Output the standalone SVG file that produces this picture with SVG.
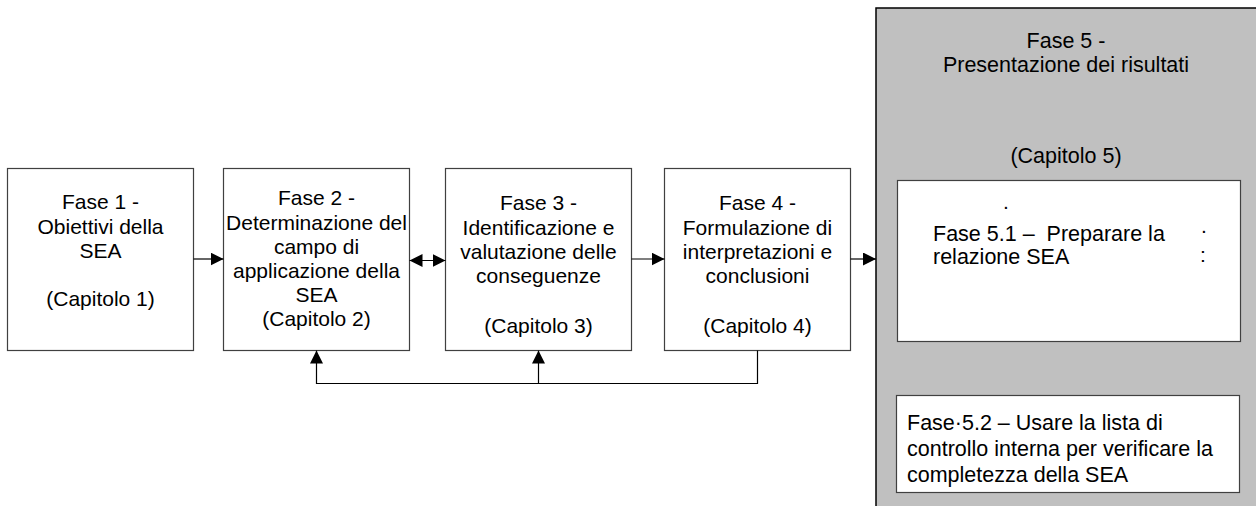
<svg xmlns="http://www.w3.org/2000/svg" width="1256" height="506" viewBox="0 0 1256 506">
  <defs>
    <style>
      .box { fill: #ffffff; stroke: #404040; stroke-width: 1.2; }
      .panel { fill: #c0c0c0; stroke: #000000; stroke-width: 1.5; }
      .lbl { font-family: "Liberation Sans", Arial, sans-serif; font-size: 21px; fill: #000000; }
      .big { font-size: 21.5px; }
      .mid { text-anchor: middle; }
      .wire { fill: none; stroke: #000000; stroke-width: 1.2; }
    </style>
    <marker id="head" viewBox="0 0 13 13" refX="13" refY="6.5" markerWidth="13" markerHeight="13" markerUnits="userSpaceOnUse" orient="auto-start-reverse">
      <path d="M0,0 L13,6.5 L0,13 Z" fill="#000000"/>
    </marker>
  </defs>

  <rect width="1256" height="506" fill="#ffffff"/>

  <!-- Phase 5 container -->
  <g id="fase5">
    <rect class="panel" x="876" y="8" width="400" height="520"/>
    <text class="lbl big mid" x="1066" y="48">Fase 5 -</text>
    <text class="lbl big mid" x="1066" y="72">Presentazione dei risultati</text>
    <text class="lbl big mid" x="1066" y="163">(Capitolo 5)</text>
  </g>

  <g id="fase5-1">
    <rect class="box" x="897.5" y="180.5" width="343" height="161"/>
    <text class="lbl" x="1003" y="209">.</text>
    <text class="lbl big" x="933" y="241" xml:space="preserve">Fase 5.1 –  Preparare la</text>
    <text class="lbl" x="1201" y="233">.</text>
    <text class="lbl" x="1200" y="262">:</text>
    <text class="lbl big" x="933" y="264">relazione SEA</text>
  </g>

  <g id="fase5-2">
    <rect class="box" x="896.5" y="395.5" width="343" height="97"/>
    <text class="lbl big" x="907" y="430">Fase·5.2 – Usare la lista di</text>
    <text class="lbl big" x="907" y="456">controllo interna per verificare la</text>
    <text class="lbl big" x="907" y="482">completezza della SEA</text>
  </g>

  <g id="fase1">
    <rect class="box" x="7.5" y="168.5" width="186" height="182"/>
    <text class="lbl mid" x="100.5" y="209">Fase 1 -</text>
    <text class="lbl mid" x="100.5" y="233.5">Obiettivi della</text>
    <text class="lbl mid" x="100.5" y="258">SEA</text>
    <text class="lbl mid" x="100.5" y="306">(Capitolo 1)</text>
  </g>

  <g id="fase2">
    <rect class="box" x="223.5" y="168.5" width="186" height="182"/>
    <text class="lbl mid" x="316.5" y="205">Fase 2 -</text>
    <text class="lbl mid" x="316.5" y="229.5">Determinazione del</text>
    <text class="lbl mid" x="316.5" y="254">campo di</text>
    <text class="lbl mid" x="316.5" y="278">applicazione della</text>
    <text class="lbl mid" x="316.5" y="302">SEA</text>
    <text class="lbl mid" x="316.5" y="326">(Capitolo 2)</text>
  </g>

  <g id="fase3">
    <rect class="box" x="445.5" y="168.5" width="186" height="182"/>
    <text class="lbl mid" x="538.5" y="210">Fase 3 -</text>
    <text class="lbl mid" x="538.5" y="234.5">Identificazione e</text>
    <text class="lbl mid" x="538.5" y="259">valutazione delle</text>
    <text class="lbl mid" x="538.5" y="283">conseguenze</text>
    <text class="lbl mid" x="538.5" y="333">(Capitolo 3)</text>
  </g>

  <g id="fase4">
    <rect class="box" x="664.5" y="168.5" width="186" height="182"/>
    <text class="lbl mid" x="757.5" y="210">Fase 4 -</text>
    <text class="lbl mid" x="757.5" y="234.5">Formulazione di</text>
    <text class="lbl mid" x="757.5" y="259">interpretazioni e</text>
    <text class="lbl mid" x="757.5" y="283">conclusioni</text>
    <text class="lbl mid" x="757.5" y="333">(Capitolo 4)</text>
  </g>

  <!-- connectors -->
  <g id="connectors">
    <line class="wire" x1="193.5" y1="259" x2="223.5" y2="259" marker-end="url(#head)"/>
    <line class="wire" x1="409.5" y1="260.5" x2="445.5" y2="260.5" marker-start="url(#head)" marker-end="url(#head)"/>
    <line class="wire" x1="631.5" y1="259" x2="664.5" y2="259" marker-end="url(#head)"/>
    <line class="wire" x1="850.5" y1="259" x2="876" y2="259" marker-end="url(#head)"/>
    <polyline class="wire" points="757.5,350.5 757.5,383.5 316.5,383.5 316.5,350.5" marker-end="url(#head)"/>
    <line class="wire" x1="538.5" y1="383.5" x2="538.5" y2="350.5" marker-end="url(#head)"/>
  </g>
</svg>
